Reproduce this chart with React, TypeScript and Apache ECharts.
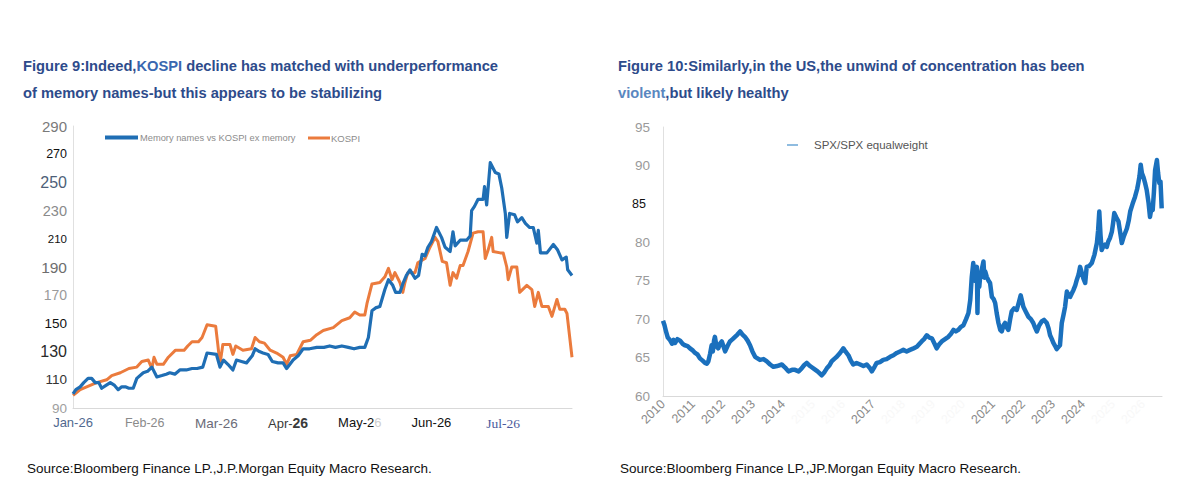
import React, { useEffect, useRef } from "react";
import * as echarts from "echarts";

// ---------- data ----------
const monthLabels = ["Jan-26", "Feb-26", "Mar-26", "Apr-26", "May-26", "Jun-26", "Jul-26"];
const shownYears = [2010, 2011, 2012, 2013, 2014, 2017, 2021, 2022, 2023, 2024];

// [month position (0 = start of Jan-26), index level]
const memoryNames: [number, number][] = [
  [0, 100], [0.04, 103], [0.1, 105], [0.15, 108], [0.21, 111], [0.26, 111], [0.31, 108], [0.36, 108], [0.4, 104],
  [0.46, 106], [0.52, 108], [0.58, 106], [0.63, 103], [0.68, 105], [0.73, 105], [0.78, 104], [0.84, 104],
  [0.89, 111], [0.98, 115], [1.04, 116], [1.1, 119], [1.17, 112], [1.24, 113], [1.3, 114], [1.35, 115],
  [1.42, 114], [1.49, 117], [1.58, 117], [1.66, 118], [1.73, 118], [1.81, 119], [1.87, 129], [2.0, 128],
  [2.05, 119], [2.1, 124], [2.16, 121], [2.23, 117], [2.28, 124], [2.35, 123], [2.42, 122], [2.5, 127],
  [2.54, 132], [2.6, 130], [2.65, 129], [2.72, 128], [2.78, 123], [2.86, 122], [2.93, 122], [2.98, 118],
  [3.07, 124], [3.14, 127], [3.21, 132], [3.3, 132], [3.4, 133], [3.5, 133], [3.58, 134], [3.66, 133],
  [3.75, 134], [3.84, 133], [3.92, 132], [4.0, 133], [4.07, 133], [4.12, 140], [4.17, 159], [4.22, 161],
  [4.28, 162], [4.35, 174], [4.4, 181], [4.46, 177], [4.5, 172], [4.56, 172], [4.6, 178], [4.65, 184],
  [4.7, 188], [4.77, 182], [4.82, 184], [4.87, 199], [4.91, 198], [4.95, 204], [5.0, 208], [5.07, 218],
  [5.14, 211], [5.19, 204], [5.26, 201], [5.3, 215], [5.33, 205], [5.4, 209], [5.49, 209], [5.54, 212],
  [5.56, 230], [5.6, 233], [5.65, 238], [5.72, 238], [5.74, 247], [5.77, 234], [5.82, 264], [5.89, 257],
  [5.94, 256], [5.98, 246], [6.03, 228], [6.05, 211], [6.09, 228], [6.16, 227], [6.2, 222], [6.26, 225],
  [6.31, 221], [6.37, 218], [6.42, 218], [6.47, 207], [6.49, 216], [6.52, 200], [6.61, 200], [6.7, 206],
  [6.76, 202], [6.82, 195], [6.88, 197], [6.9, 188], [6.96, 184],
];

const kospi: [number, number][] = [
  [0, 99], [0.05, 101], [0.1, 103], [0.19, 105], [0.33, 108], [0.47, 110], [0.54, 113], [0.66, 115],
  [0.78, 118], [0.89, 119], [0.96, 123], [1.05, 124], [1.1, 118], [1.13, 126], [1.17, 121], [1.26, 121],
  [1.33, 126], [1.43, 131], [1.55, 131], [1.6, 134], [1.66, 137], [1.75, 137], [1.8, 140], [1.87, 149],
  [1.99, 148], [2.02, 135], [2.05, 121], [2.09, 135], [2.19, 135], [2.23, 128], [2.27, 134], [2.37, 131],
  [2.49, 132], [2.54, 140], [2.6, 137], [2.67, 136], [2.75, 131], [2.84, 129], [2.93, 126], [2.98, 121],
  [3.03, 127], [3.12, 128], [3.21, 137], [3.31, 138], [3.4, 142], [3.49, 145], [3.63, 147], [3.75, 152],
  [3.86, 154], [3.93, 158], [4.0, 156], [4.07, 156], [4.1, 164], [4.17, 178], [4.28, 179], [4.35, 183],
  [4.4, 189], [4.45, 181], [4.49, 186], [4.56, 179], [4.6, 172], [4.63, 179], [4.67, 186], [4.77, 186],
  [4.81, 193], [4.91, 196], [4.97, 203], [5.02, 208], [5.05, 211], [5.09, 208], [5.15, 194], [5.21, 193],
  [5.26, 177], [5.3, 186], [5.35, 182], [5.4, 191], [5.44, 191], [5.51, 201], [5.58, 214], [5.65, 215],
  [5.72, 215], [5.75, 196], [5.79, 202], [5.84, 211], [5.86, 201], [5.96, 200], [6.0, 200], [6.05, 190],
  [6.07, 181], [6.12, 190], [6.19, 190], [6.23, 172], [6.33, 177], [6.4, 174], [6.44, 162], [6.49, 172],
  [6.54, 162], [6.63, 162], [6.68, 155], [6.75, 167], [6.79, 160], [6.86, 160], [6.89, 157], [6.96, 126],
];

// [year, ratio]
const spxRatio: [number, number][] = [
  [2010.0, 69.8], [2010.05, 69.2], [2010.1, 68.4], [2010.16, 67.6], [2010.23, 67.3], [2010.3, 66.8],
  [2010.35, 67.3], [2010.4, 66.9], [2010.48, 67.4], [2010.57, 67.2], [2010.65, 66.8], [2010.73, 66.6],
  [2010.82, 66.5], [2010.9, 66.2], [2011.0, 65.9], [2011.07, 65.6], [2011.15, 65.4], [2011.23, 64.9],
  [2011.32, 64.6], [2011.4, 64.3], [2011.46, 64.2], [2011.51, 64.5], [2011.57, 65.5], [2011.62, 66.6],
  [2011.66, 65.8], [2011.7, 67.2], [2011.73, 67.7], [2011.78, 66.5], [2011.84, 66.2], [2011.9, 66.8],
  [2011.96, 67.1], [2012.02, 66.4], [2012.07, 65.8], [2012.15, 66.5], [2012.23, 67.1], [2012.32, 67.4],
  [2012.4, 67.7], [2012.48, 68.0], [2012.57, 68.4], [2012.65, 68.0], [2012.73, 67.7], [2012.82, 67.2],
  [2012.9, 66.6], [2012.98, 65.8], [2013.07, 65.1], [2013.15, 64.9], [2013.23, 64.7], [2013.35, 64.8],
  [2013.46, 64.5], [2013.57, 64.1], [2013.68, 63.8], [2013.8, 63.9], [2013.96, 64.1], [2014.07, 63.7],
  [2014.18, 63.2], [2014.3, 63.4], [2014.4, 63.4], [2014.52, 63.2], [2014.62, 63.6], [2014.7, 64.0],
  [2014.79, 64.3], [2014.9, 63.9], [2015.01, 63.6], [2015.15, 63.2], [2015.29, 62.7], [2015.38, 63.1],
  [2015.46, 63.6], [2015.55, 64.0], [2015.62, 64.5], [2015.7, 64.8], [2015.79, 65.1], [2015.9, 65.6],
  [2016.01, 66.2], [2016.08, 65.8], [2016.18, 65.3], [2016.26, 64.6], [2016.34, 64.1], [2016.45, 64.3],
  [2016.57, 64.1], [2016.68, 63.9], [2016.79, 64.1], [2016.9, 63.6], [2016.96, 63.2], [2017.05, 63.8],
  [2017.12, 64.3], [2017.23, 64.4], [2017.34, 64.7], [2017.45, 64.8], [2017.57, 65.1], [2017.68, 65.3],
  [2017.79, 65.6], [2017.9, 65.8], [2018.01, 66.0], [2018.12, 65.8], [2018.23, 66.0], [2018.35, 66.2],
  [2018.46, 66.4], [2018.55, 66.8], [2018.62, 67.1], [2018.7, 67.4], [2018.79, 67.9], [2018.88, 67.6],
  [2018.96, 67.5], [2019.05, 66.8], [2019.12, 66.2], [2019.2, 66.7], [2019.29, 67.1], [2019.4, 67.4],
  [2019.51, 67.7], [2019.6, 68.1], [2019.68, 68.6], [2019.76, 68.4], [2019.84, 68.6], [2019.93, 69.0],
  [2020.01, 69.2], [2020.1, 70.0], [2020.18, 70.8], [2020.24, 72.5], [2020.29, 75.5], [2020.34, 77.3],
  [2020.38, 75.0], [2020.42, 76.5], [2020.46, 76.8], [2020.48, 70.8], [2020.5, 75.8], [2020.54, 74.2],
  [2020.57, 75.5], [2020.62, 76.4], [2020.68, 77.5], [2020.71, 75.4], [2020.74, 76.2], [2020.79, 75.5],
  [2020.85, 75.0], [2020.9, 74.7], [2020.96, 72.9], [2021.02, 72.6], [2021.07, 72.1], [2021.12, 70.8],
  [2021.18, 69.5], [2021.24, 68.6], [2021.29, 68.4], [2021.35, 69.2], [2021.4, 69.5], [2021.46, 68.9],
  [2021.51, 68.6], [2021.57, 70.0], [2021.62, 71.0], [2021.7, 71.4], [2021.79, 71.2], [2021.86, 72.2],
  [2021.92, 73.1], [2021.97, 72.3], [2022.01, 71.6], [2022.1, 70.9], [2022.18, 70.3], [2022.26, 70.0],
  [2022.34, 69.5], [2022.4, 68.9], [2022.46, 68.4], [2022.54, 69.2], [2022.62, 69.7], [2022.7, 69.9],
  [2022.79, 69.5], [2022.85, 68.8], [2022.9, 67.9], [2022.96, 67.4], [2023.01, 66.9], [2023.07, 66.5],
  [2023.12, 66.1], [2023.18, 66.4], [2023.23, 66.6], [2023.29, 69.5], [2023.35, 70.6], [2023.4, 71.6],
  [2023.46, 73.6], [2023.52, 73.0], [2023.57, 72.9], [2023.63, 73.4], [2023.68, 73.8], [2023.74, 74.4],
  [2023.79, 75.1], [2023.85, 75.8], [2023.9, 76.8], [2023.96, 76.0], [2024.01, 75.3], [2024.07, 74.7],
  [2024.12, 76.8], [2024.2, 76.9], [2024.29, 77.3], [2024.38, 78.4], [2024.46, 79.9], [2024.5, 81.5],
  [2024.54, 84.0], [2024.58, 81.0], [2024.62, 79.0], [2024.68, 79.5], [2024.73, 79.7], [2024.79, 79.4],
  [2024.84, 80.1], [2024.9, 80.6], [2024.96, 81.4], [2025.0, 82.5], [2025.04, 83.8], [2025.1, 83.3],
  [2025.18, 82.7], [2025.24, 81.2], [2025.29, 79.9], [2025.36, 80.8], [2025.46, 81.8], [2025.52, 82.8],
  [2025.57, 84.0], [2025.65, 85.0], [2025.73, 85.9], [2025.8, 86.9], [2025.84, 87.7], [2025.88, 88.6],
  [2025.92, 90.1], [2025.96, 89.0], [2026.01, 88.5], [2026.06, 87.8], [2026.12, 86.8], [2026.18, 85.2],
  [2026.23, 83.3], [2026.28, 84.5], [2026.32, 84.2], [2026.36, 86.5], [2026.4, 89.4], [2026.46, 90.7],
  [2026.5, 89.0], [2026.54, 87.7], [2026.58, 87.9], [2026.62, 84.4],
];

const FONT = "'Liberation Sans', Arial, Helvetica, sans-serif";

export default function App() {
  const ref = useRef<HTMLDivElement>(null);

  useEffect(() => {
    if (!ref.current) return;
    const chart = echarts.init(ref.current, null, { renderer: "svg" });

    const titleRich = (light: string) => ({
      a: { fontFamily: FONT, fontSize: 14.7, fontWeight: "bold", color: "#2d4b8b", lineHeight: 27 },
      b: { fontFamily: FONT, fontSize: 14.7, fontWeight: "bold", color: light, lineHeight: 27 },
    });

    const yLeftRich: Record<string, any> = {
      s290: { color: "#7a7a7a", fontSize: 15 },
      s270: { color: "#111111", fontSize: 12.5 },
      s250: { color: "#4e5f78", fontSize: 16 },
      s230: { color: "#8a8a8a", fontSize: 14.5 },
      s210: { color: "#111111", fontSize: 11.5 },
      s190: { color: "#6e6e6e", fontSize: 15.5 },
      s170: { color: "#9a9a9a", fontSize: 14 },
      s150: { color: "#111111", fontSize: 13.5 },
      s130: { color: "#2a2a2a", fontSize: 16 },
      s110: { color: "#333333", fontSize: 13.5 },
      s90: { color: "#a0a0a0", fontSize: 13.5 },
    };

    const monthKeys = ["jan", "feb", "mar", "apr", "may", "jun", "jul"];
    const xLeftRich: Record<string, any> = {
      jan: { color: "#51698f", fontSize: 13 },
      feb: { color: "#8a8a8a", fontSize: 12.5 },
      mar: { color: "#6b6b78", fontSize: 13.5 },
      apr: { color: "#3a3a3a", fontSize: 13 },
      aprb: { color: "#3a3a3a", fontSize: 14, fontWeight: "bold" },
      may: { color: "#111111", fontSize: 13 },
      mayf: { color: "#cfcfcf", fontSize: 13 },
      jun: { color: "#111111", fontSize: 13 },
      jul: { color: "#4b5a9c", fontSize: 13.5, fontFamily: "'Liberation Serif', serif" },
    };

    const option: any = {
      animation: false,
      backgroundColor: "#ffffff",
      textStyle: { fontFamily: FONT },
      title: [
        {
          left: 23,
          top: 52,
          padding: 0,
          text:
            "{a|Figure 9:Indeed,}{b|KOSPI}{a| decline has matched with underperformance}\n{a|of memory names-but this appears to be stabilizing}",
          textStyle: { rich: titleRich("#3a67b0") },
        },
        {
          left: 618,
          top: 52,
          padding: 0,
          text:
            "{a|Figure 10:Similarly,in the US,the unwind of concentration has been}\n{b|violent}{a|,but likely healthy}",
          textStyle: { rich: titleRich("#5a87c0") },
        },
      ],
      legend: [
        {
          data: ["Memory names vs KOSPI ex memory"],
          left: 105,
          top: 133,
          padding: 0,
          icon: "rect",
          itemWidth: 33,
          itemHeight: 4,
          textStyle: { color: "#8c8c8c", fontSize: 9.3, fontFamily: FONT, padding: [0, 0, 0, -3] },
        },
        {
          data: ["KOSPI"],
          left: 308,
          top: 133,
          padding: 0,
          icon: "rect",
          itemWidth: 22,
          itemHeight: 3,
          textStyle: { color: "#8c8c8c", fontSize: 9.5, fontFamily: FONT, padding: [0, 0, 0, -4] },
        },
        {
          data: [{ name: "SPX/SPX equalweight", itemStyle: { color: "#6aa6d6" } }],
          left: 787,
          top: 139,
          padding: 0,
          icon: "rect",
          itemWidth: 11,
          itemHeight: 1.5,
          textStyle: { color: "#555555", fontSize: 11.5, fontFamily: FONT, padding: [0, 0, 0, 11] },
        },
      ],
      grid: [
        { left: 73, top: 126, width: 499, height: 282, containLabel: false },
        { left: 663, top: 127, width: 499, height: 269, containLabel: false },
      ],
      xAxis: [
        {
          type: "value",
          gridIndex: 0,
          min: 0,
          max: 6.96,
          interval: 1,
          axisLine: { show: true, lineStyle: { color: "#d9d9d9", width: 1 } },
          axisTick: { show: false },
          splitLine: { show: false },
          axisLabel: {
            margin: 8,
            fontFamily: FONT,
            formatter: (v: number) => {
              const i = Math.round(v);
              if (Math.abs(v - i) > 0.01 || i < 0 || i >= monthLabels.length) return "";
              const lab = monthLabels[i];
              if (i === 3) return `{apr|${lab.slice(0, 4)}}{aprb|${lab.slice(4)}}`;
              if (i === 4) return `{may|${lab.slice(0, 5)}}{mayf|${lab.slice(5)}}`;
              return `{${monthKeys[i]}|${lab}}`;
            },
            rich: xLeftRich,
          },
        },
        {
          type: "value",
          gridIndex: 1,
          min: 2010,
          max: 2026.63,
          interval: 1,
          axisLine: { show: true, lineStyle: { color: "#d9d9d9", width: 1 } },
          axisTick: { show: false },
          splitLine: { show: false },
          axisLabel: {
            rotate: 45,
            margin: 6,
            fontFamily: FONT,
            fontSize: 12.5,
            formatter: (v: number) => {
              const y = Math.round(v);
              if (Math.abs(v - y) > 0.01) return "";
              return shownYears.includes(y) ? `{y|${y}}` : `{h|${y}}`;
            },
            rich: {
              y: { color: "#8a8a8a", fontSize: 12.5 },
              h: { color: "#f8f8f8", fontSize: 12.5 },
            },
          },
        },
      ],
      yAxis: [
        {
          type: "value",
          gridIndex: 0,
          min: 90,
          max: 290,
          interval: 10,
          axisLine: { show: true, lineStyle: { color: "#e0e0e0", width: 1 } },
          axisTick: { show: false },
          splitLine: { show: false },
          axisLabel: {
            margin: 6,
            fontFamily: FONT,
            formatter: (v: number) => ((v - 90) % 20 === 0 ? `{s${v}|${v}}` : ""),
            rich: yLeftRich,
          },
        },
        {
          type: "value",
          gridIndex: 1,
          min: 60,
          max: 95,
          interval: 5,
          axisLine: { show: true, lineStyle: { color: "#e0e0e0", width: 1 } },
          axisTick: { show: false },
          splitLine: { show: false },
          axisLabel: {
            margin: 13,
            fontFamily: FONT,
            formatter: (v: number) => (v === 85 ? `{k|${v}}` : `{g|${v}}`),
            rich: {
              g: { color: "#9a9a9a", fontSize: 13.5 },
              k: { color: "#111111", fontSize: 12.5, padding: [0, 4, 0, 0] },
            },
          },
        },
      ],
      series: [
        {
          name: "Memory names vs KOSPI ex memory",
          type: "line",
          xAxisIndex: 0,
          yAxisIndex: 0,
          data: memoryNames,
          showSymbol: false,
          color: "#1f6eb4",
          lineStyle: { width: 3.2, color: "#1f6eb4", join: "round" },
          z: 3,
        },
        {
          name: "KOSPI",
          type: "line",
          xAxisIndex: 0,
          yAxisIndex: 0,
          data: kospi,
          showSymbol: false,
          color: "#eb7b3d",
          lineStyle: { width: 3, color: "#eb7b3d", join: "round" },
          z: 2,
        },
        {
          name: "SPX/SPX equalweight",
          type: "line",
          xAxisIndex: 1,
          yAxisIndex: 1,
          data: spxRatio,
          showSymbol: false,
          color: "#1a70bd",
          lineStyle: { width: 4.5, color: "#1a70bd", join: "round" },
        },
      ],
      graphic: [
        {
          type: "text",
          x: 27,
          y: 468,
          style: {
            text: "Source:Bloomberg Finance LP.,J.P.Morgan Equity Macro Research.",
            fill: "#111111",
            font: `13.5px ${FONT}`,
            verticalAlign: "middle",
          },
        },
        {
          type: "text",
          x: 620,
          y: 468,
          style: {
            text: "Source:Bloomberg Finance LP.,JP.Morgan Equity Macro Research.",
            fill: "#111111",
            font: `13.5px ${FONT}`,
            verticalAlign: "middle",
          },
        },
      ],
    };

    chart.setOption(option);
    return () => chart.dispose();
  }, []);

  return (
    <div
      ref={ref}
      style={{ position: "fixed", left: 0, top: 0, width: 1200, height: 498, background: "#fff" }}
    />
  );
}
